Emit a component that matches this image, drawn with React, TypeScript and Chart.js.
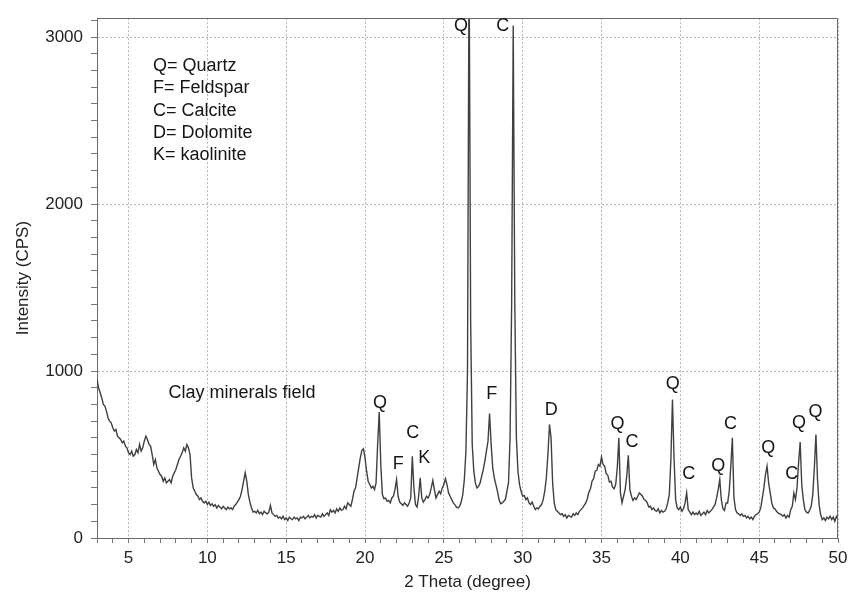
import React, { useEffect, useRef } from 'react';
import { Chart, registerables } from 'chart.js';

Chart.register(...registerables);

// 2-theta grid of the scan (degrees)
const TWO_THETA_START = 3;
const TWO_THETA_STEP = 0.1;

// Intensity (CPS), one value per 0.1 degree
const intensity3to10 = [
  950, 900, 870, 840, 800, 790, 760, 720, 700, 690,
  660, 640, 650, 610, 600, 590, 570, 580, 550, 540,
  510, 500, 520, 490, 500, 530, 510, 560, 520, 540,
  580, 610, 590, 560, 550, 500, 440, 470, 420, 400,
  380, 370, 340, 360, 330, 340, 350, 330, 370, 390,
  410, 440, 470, 490, 510, 540, 520, 560, 540, 500,
  360, 300, 280, 260, 250, 230, 240, 220, 210, 220,
];
const intensity10to20 = [
  200, 215, 195, 205, 190, 200, 180, 195, 185, 175,
  190, 180, 170, 185, 175, 180, 170, 190, 200, 215,
  230, 250, 290, 340, 390, 340, 260, 215, 180, 155,
  160, 150, 165, 145, 155, 140, 160, 150, 145, 155,
  195, 150, 140, 130, 135, 120, 125, 115, 130, 110,
  120, 105, 125, 115, 110, 125, 115, 120, 105, 125,
  120, 130, 115, 125, 135, 120, 130, 125, 140, 120,
  135, 130, 125, 145, 130, 140, 150, 135, 170, 155,
  165, 150, 175, 160, 180, 165, 170, 190, 175, 210,
  200, 190, 230, 280, 300, 360, 420, 480, 525, 535,
];
const intensity20to30 = [
  480, 400, 340, 320, 300, 310, 290, 330, 560, 755,
  440, 260, 235, 240, 220, 225, 210, 240, 250, 290,
  350, 250, 215, 205, 195, 210, 200, 190, 210, 240,
  490, 300, 200, 185, 250, 360, 240, 215, 230, 250,
  240, 260, 300, 345, 290, 240, 260, 280, 265, 300,
  320, 355, 320, 270, 250, 230, 210, 200, 185, 180,
  190, 215, 260, 350, 520, 1000, 3500, 1300, 560, 400,
  330, 300, 310, 330, 370, 410, 460, 520, 580, 745,
  560, 420, 360, 320, 280, 230, 205, 210, 220, 230,
  280, 330, 600, 1400, 3070, 1400, 600, 400, 320, 280,
];
const intensity30to40 = [
  250, 255, 230, 240, 210, 200, 215, 190, 170, 180,
  175, 190, 200, 230, 280, 360, 500, 680, 600, 330,
  210, 170, 160, 150, 140, 145, 130, 140, 120, 135,
  130, 125, 145, 135, 150, 140, 160, 170, 180, 195,
  210, 235, 275, 295, 340, 355, 400, 405, 440, 430,
  485, 440, 430, 385, 375, 335, 340, 305, 295, 320,
  420, 600, 270, 210, 250, 290, 370, 495, 290, 250,
  225, 240, 230, 250, 270, 260, 250, 230, 225, 210,
  185, 190, 170, 180, 165, 160, 175, 150, 165, 155,
  160, 175, 210, 260, 470, 830, 480, 230, 180, 170,
];
const intensity40to50 = [
  185, 160, 175, 210, 270, 170, 155, 140, 155, 140,
  150, 140, 160, 135, 145, 155, 140, 165, 150, 160,
  170, 185, 200, 240, 290, 350, 230, 175, 165, 210,
  210, 280, 430, 600, 240, 170, 150, 145, 135, 145,
  130, 135, 120, 130, 115, 125, 110, 130, 140, 145,
  155, 180, 240, 300, 380, 430, 330, 270, 210, 180,
  175, 160, 150, 145, 140, 130, 140, 120, 135, 125,
  170, 190, 270, 230, 300, 450, 575, 320, 230, 170,
  155, 150, 165, 190, 260, 420, 620, 350, 200, 140,
  110, 120, 105, 125, 115, 130, 110, 125, 100, 130,
  115,
];

// Peak identification labels (text, 2-theta, intensity of label centre)
const peakLabelText = ['Q', 'F', 'C', 'K', 'Q', 'C', 'F', 'D', 'Q', 'C', 'Q', 'C', 'Q', 'C', 'Q', 'C', 'Q', 'Q'];
const peakLabelTheta = [20.95, 22.11, 23.02, 23.76, 26.09, 28.74, 28.04, 31.81, 36.02, 36.94, 39.52, 40.54, 42.4, 43.18, 45.58, 47.06, 47.52, 48.58];
const peakLabelIntensity = [811, 444, 627, 480, 3066, 3066, 861, 767, 682, 573, 920, 385, 434, 682, 537, 385, 686, 756];

// Key of mineral abbreviations
const keyLines = ['Q= Quartz', 'F= Feldspar', 'C= Calcite', 'D= Dolomite', 'K= kaolinite'];
const keyTheta = 6.55;
const keyIntensity = [2824, 2695, 2557, 2428, 2295];

const fieldLabel = 'Clay minerals field';
const fieldTheta = 12.2;
const fieldIntensity = 870;

const X_MIN = 3;
const X_MAX = 50;
const Y_MIN = 0;
const Y_MAX = 3113;

const FONT = '"Liberation Sans", Arial, Helvetica, sans-serif';

const intensity = [
  ...intensity3to10,
  ...intensity10to20,
  ...intensity20to30,
  ...intensity30to40,
  ...intensity40to50,
];

const overlayPlugin = {
  id: 'xrdOverlay',
  afterDatasetsDraw(chart: any) {
    const { ctx, chartArea, scales } = chart;
    const x = scales.x;
    const y = scales.y;
    ctx.save();
    ctx.strokeStyle = '#6a6a6a';
    ctx.lineWidth = 1;
    ctx.beginPath();
    ctx.moveTo(Math.round(chartArea.left) + 0.5, Math.round(chartArea.top) + 0.5);
    ctx.lineTo(Math.round(chartArea.right) - 0.5, Math.round(chartArea.top) + 0.5);
    ctx.lineTo(Math.round(chartArea.right) - 0.5, Math.round(chartArea.bottom));
    ctx.stroke();

    ctx.fillStyle = '#151515';
    ctx.font = `18px ${FONT}`;
    ctx.textBaseline = 'middle';
    ctx.textAlign = 'center';
    peakLabelText.forEach((t, i) => {
      ctx.fillText(t, x.getPixelForValue(peakLabelTheta[i]), y.getPixelForValue(peakLabelIntensity[i]));
    });
    ctx.fillText(fieldLabel, x.getPixelForValue(fieldTheta), y.getPixelForValue(fieldIntensity));
    ctx.textAlign = 'left';
    keyLines.forEach((t, i) => {
      ctx.fillText(t, x.getPixelForValue(keyTheta), y.getPixelForValue(keyIntensity[i]));
    });
    ctx.restore();
  },
};

export default function App() {
  const canvasRef = useRef<HTMLCanvasElement | null>(null);

  useEffect(() => {
    if (!canvasRef.current) return;
    const points = intensity.map((v, i) => ({
      x: Number((TWO_THETA_START + i * TWO_THETA_STEP).toFixed(1)),
      y: v,
    }));
    const chart = new Chart(canvasRef.current, {
      type: 'line',
      data: {
        datasets: [
          {
            label: 'XRD',
            data: points,
            borderColor: '#404040',
            borderWidth: 1.4,
            pointRadius: 0,
            tension: 0,
            fill: false,
          },
        ],
      },
      options: {
        animation: false,
        responsive: true,
        maintainAspectRatio: false,
        layout: { padding: { top: 15, right: 22, left: 0, bottom: 0 } },
        plugins: {
          legend: { display: false },
          tooltip: { enabled: false },
        },
        scales: {
          x: {
            type: 'linear',
            min: X_MIN,
            max: X_MAX,
            afterFit: (scale: any) => {
              scale.height = 54;
            },
            ticks: {
              stepSize: 1,
              autoSkip: false,
              maxRotation: 0,
              minRotation: 0,
              padding: 5,
              color: '#222',
              font: { family: FONT, size: 17 },
              callback: (v: any) => (Number(v) % 5 === 0 ? String(v) : ''),
            },
            grid: {
              color: (c: any) => (c.tick && c.tick.value % 5 === 0 ? '#b5b5b5' : 'rgba(0,0,0,0)'),
              tickColor: '#777',
              tickLength: 5,
              lineWidth: 1,
            },
            border: { display: true, color: '#6a6a6a', width: 1, dash: [2, 2] },
            title: {
              display: true,
              text: '2 Theta (degree)',
              color: '#222',
              font: { family: FONT, size: 17 },
              padding: { top: 0, bottom: -1 },
            },
          },
          y: {
            type: 'linear',
            min: Y_MIN,
            max: Y_MAX,
            afterFit: (scale: any) => {
              scale.width = 97;
            },
            ticks: {
              stepSize: 100,
              autoSkip: false,
              includeBounds: false,
              padding: 8,
              color: '#222',
              font: { family: FONT, size: 17 },
              callback: (v: any) => (Number(v) % 1000 === 0 ? String(v) : ''),
            },
            grid: {
              color: (c: any) =>
                c.tick && c.tick.value % 1000 === 0 && c.tick.value > 0 ? '#b5b5b5' : 'rgba(0,0,0,0)',
              tickColor: '#777',
              tickLength: 6,
              lineWidth: 1,
            },
            border: { display: true, color: '#6a6a6a', width: 1, dash: [2, 2] },
            title: {
              display: true,
              text: 'Intensity (CPS)',
              color: '#222',
              font: { family: FONT, size: 17 },
              padding: { top: 13, bottom: 0 },
            },
          },
        },
      },
      plugins: [overlayPlugin],
    });
    return () => chart.destroy();
  }, []);

  return (
    <div style={{ position: 'fixed', left: 0, top: 0, width: 860, height: 592, background: '#fff' }}>
      <canvas ref={canvasRef} />
    </div>
  );
}
